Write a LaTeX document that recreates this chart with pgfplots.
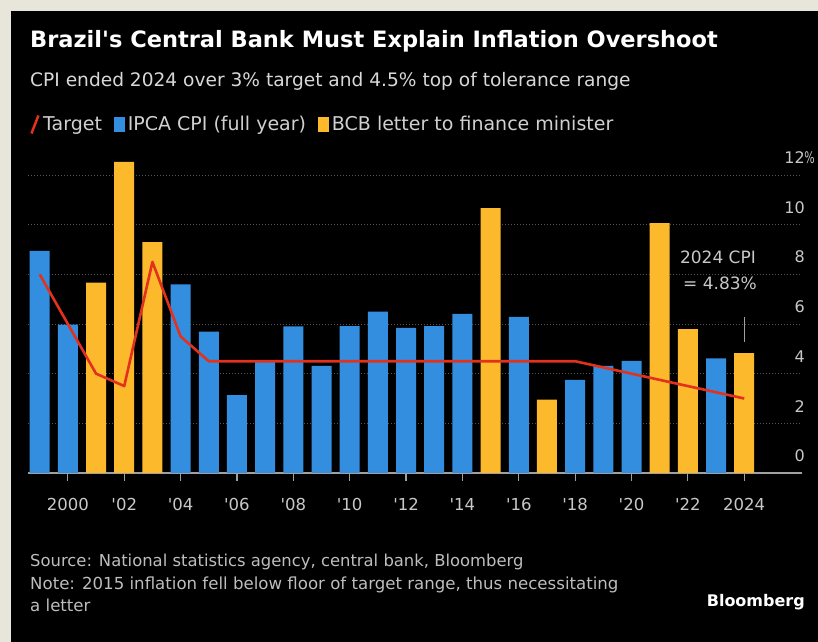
\documentclass[border=0pt]{standalone}
\usepackage{pgfplots}
\pgfplotsset{compat=1.18}
\usepackage{graphicx}
\usepackage{fontspec}
\setmainfont{DejaVu Sans}
\definecolor{bgbeige}{HTML}{E8E6DB}
\definecolor{cpiblue}{HTML}{338EDF}
\definecolor{bcbyellow}{HTML}{FDB92C}
\definecolor{tgtred}{HTML}{E2311D}
\definecolor{gridgray}{HTML}{555555}
\definecolor{axisgray}{HTML}{A0A0A0}
\definecolor{tickgray}{HTML}{C8C8C8}
\definecolor{subgray}{HTML}{D8D8D8}
\definecolor{legendgray}{HTML}{D0D0D0}
\definecolor{footgray}{HTML}{BDBDBD}
\begin{document}
\begin{tikzpicture}
\useasboundingbox (0bp,0bp) rectangle (818bp,642bp);
\fill[bgbeige] (0bp,0bp) rectangle (818bp,642bp);
\fill[black] (11bp,0bp) rectangle (818bp,631bp);
\node[anchor=base west, inner sep=0pt, text=white, font=\bfseries\fontsize{22.5bp}{26bp}\selectfont] at (30bp,594bp) {Brazil\textquotesingle s Central Bank Must Explain Inflation Overshoot};
\node[anchor=base west, inner sep=0pt, text=subgray, font=\fontsize{18.6bp}{22bp}\selectfont] at (30bp,555bp) {CPI ended 2024 over 3\% target and 4.5\% top of tolerance range};
\begin{axis}[
  at={(28bp,169bp)}, anchor=south west, scale only axis,
  width=774bp, height=312.9bp,
  xmin=1998.585, xmax=2026.05, ymin=0, ymax=12.6,
  axis x line*=bottom, axis y line*=right,
  x axis line style={axisgray, line width=1.5bp, -},
  y axis line style={draw=none},
  tick align=outside, major tick length=8bp,
  xtick={2000,2002,...,2024},
  xticklabels={2000,\textquotesingle 02,\textquotesingle 04,\textquotesingle 06,\textquotesingle 08,\textquotesingle 10,\textquotesingle 12,\textquotesingle 14,\textquotesingle 16,\textquotesingle 18,\textquotesingle 20,\textquotesingle 22,2024},
  xtick style={axisgray, line width=1.2bp},
  ytick={0,2,...,12},
  yticklabels={0,2,4,6,8,10,12\rlap{\kern-0.5bp\scalebox{0.68}[1]{\%}}},
  ytick style={draw=none},
  ymajorgrids,
  grid style={gridgray, line width=0.8bp, dash pattern=on 1bp off 2bp},
  /pgf/number format/assume math mode=true,
  xticklabel style={text=tickgray, font=\fontsize{16.5bp}{19bp}\selectfont, yshift=-14bp},
  yticklabel style={text=tickgray, font=\fontsize{16bp}{19bp}\selectfont, anchor=south east, inner sep=0pt, yshift=11bp, xshift=-5bp},
  legend style={at={(axis description cs:-0.0013,1.1138)}, anchor=west, draw=none, fill=none,
    legend columns=-1, font=\fontsize{19bp}{22bp}\selectfont, text=legendgray,
    /tikz/every odd column/.append style={column sep=1.5bp},
    /tikz/every even column/.append style={column sep=10bp}},
  clip=false,
]
\addlegendimage{legend image code/.code={\draw[tgtred, line width=2.5bp] (0bp,-9bp) -- (7bp,9bp);}}
\addlegendentry{Target}
\addlegendimage{legend image code/.code={\fill[cpiblue] (0bp,-7bp) rectangle (10bp,7bp);}}
\addlegendentry{IPCA CPI (full year)}
\addlegendimage{legend image code/.code={\fill[bcbyellow] (0bp,-7bp) rectangle (10bp,7bp);}}
\addlegendentry{BCB letter to finance minister}
\addplot[forget plot, ybar, bar width=20bp, bar shift=0pt, fill=cpiblue, draw=none] coordinates {
(1999,8.94) (2000,5.97) (2004,7.60) (2005,5.69) (2006,3.14) (2007,4.46) (2008,5.90) (2009,4.31)
(2010,5.91) (2011,6.50) (2012,5.84) (2013,5.91) (2014,6.41) (2016,6.29) (2018,3.75) (2019,4.31)
(2020,4.52) (2023,4.62)};
\addplot[forget plot, ybar, bar width=20bp, bar shift=0pt, fill=bcbyellow, draw=none] coordinates {
(2001,7.67) (2002,12.53) (2003,9.30) (2015,10.67) (2017,2.95) (2021,10.06) (2022,5.79) (2024,4.83)};
\addplot[forget plot, tgtred, line width=2.6bp, line join=round, sharp plot, mark=none] coordinates {
(1999,8) (2000,6) (2001,4) (2002,3.5) (2003,8.5) (2004,5.5) (2005,4.5) (2006,4.5) (2007,4.5)
(2008,4.5) (2009,4.5) (2010,4.5) (2011,4.5) (2012,4.5) (2013,4.5) (2014,4.5) (2015,4.5)
(2016,4.5) (2017,4.5) (2018,4.5) (2019,4.25) (2020,4) (2021,3.75) (2022,3.5) (2023,3.25) (2024,3)};
\draw[axisgray, line width=1.2bp] (axis cs:2024,5.28) -- (axis cs:2024,6.28);
\end{axis}
\node[anchor=base, inner sep=0pt, text=tickgray, font=\fontsize{17bp}{20bp}\selectfont] at (718bp,378bp) {2024 CPI};
\node[anchor=base, inner sep=0pt, text=tickgray, font=\fontsize{17bp}{20bp}\selectfont] at (720bp,352bp) {= 4.83\%};
\node[anchor=base west, inner sep=0pt, text=footgray, font=\fontsize{16.4bp}{20bp}\selectfont] at (30bp,75bp) {Source: National statistics agency, central bank, Bloomberg};
\node[anchor=base west, inner sep=0pt, text=footgray, font=\fontsize{16.6bp}{20bp}\selectfont] at (30bp,52bp) {Note: 2015 inflation fell below floor of target range, thus necessitating};
\node[anchor=base west, inner sep=0pt, text=footgray, font=\fontsize{16.6bp}{20bp}\selectfont] at (30bp,31bp) {a letter};
\node[anchor=base east, inner sep=0pt, text=white, font=\bfseries\fontsize{16bp}{19bp}\selectfont] at (805bp,36bp) {Bloomberg};
\end{tikzpicture}
\end{document}
